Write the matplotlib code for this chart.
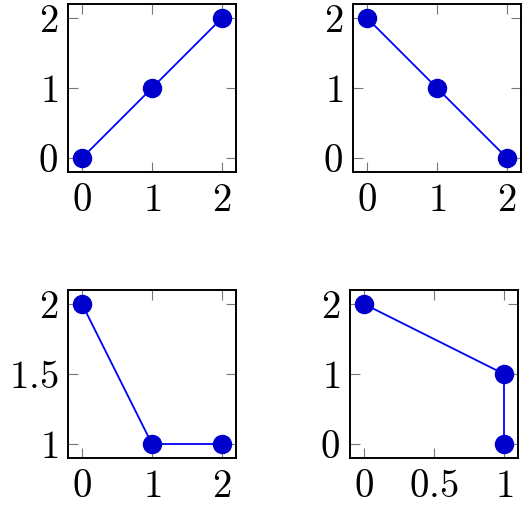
import matplotlib
matplotlib.use("Agg")
import matplotlib.pyplot as plt

plt.rcParams['mathtext.fontset'] = 'cm'
plt.rcParams['font.family'] = 'serif'
plt.rcParams['font.serif'] = ['DejaVu Serif']

# data for the four panels
x1 = [0, 1, 2]
y1 = [0, 1, 2]
x2 = [0, 1, 2]
y2 = [2, 1, 0]
x3 = [0, 1, 2]
y3 = [2, 1, 1]
x4 = [0, 1, 1]
y4 = [2, 1, 0]

xticks1 = [0, 1, 2]
yticks1 = [0, 1, 2]
xticks3 = [0, 1, 2]
yticks3 = [1, 1.5, 2]
xticks4 = [0, 0.5, 1]
yticks4 = [0, 1, 2]

W, H = 527, 505
fig = plt.figure(figsize=(W / 100, H / 100), dpi=100)


def make_axes(left, top, w=168, h=168):
    return fig.add_axes([left / W, (H - top - h) / H, w / W, h / H])


def fmt(v):
    s = f"{v:g}"
    return f"${s}$"


def style(ax, x, y, xt, yt):
    ax.plot(x, y, color='#0000ff', lw=1.3, marker='o', ms=13,
            mfc='#0000cc', mec='#0000cc', zorder=3, clip_on=False)
    xr = max(x) - min(x)
    yr = max(y) - min(y)
    ax.set_xlim(min(x) - 0.1 * xr, max(x) + 0.1 * xr)
    ax.set_ylim(min(y) - 0.1 * yr, max(y) + 0.1 * yr)
    ax.set_xticks(xt)
    ax.set_yticks(yt)
    ax.set_xticklabels([fmt(v) for v in xt])
    ax.set_yticklabels([fmt(v) for v in yt])
    ax.tick_params(direction='in', length=7, width=0.8, color='#777777',
                   top=True, right=True, labelsize=28, pad=7)
    for sp in ax.spines.values():
        sp.set_linewidth(1.4)


ax1 = make_axes(68, 4)
style(ax1, x1, y1, xticks1, yticks1)
ax2 = make_axes(353, 4)
style(ax2, x2, y2, xticks1, yticks1)
ax3 = make_axes(68, 290)
style(ax3, x3, y3, xticks3, yticks3)
ax4 = make_axes(350, 290)
style(ax4, x4, y4, xticks4, yticks4)

fig.savefig("out.png", dpi=100)
